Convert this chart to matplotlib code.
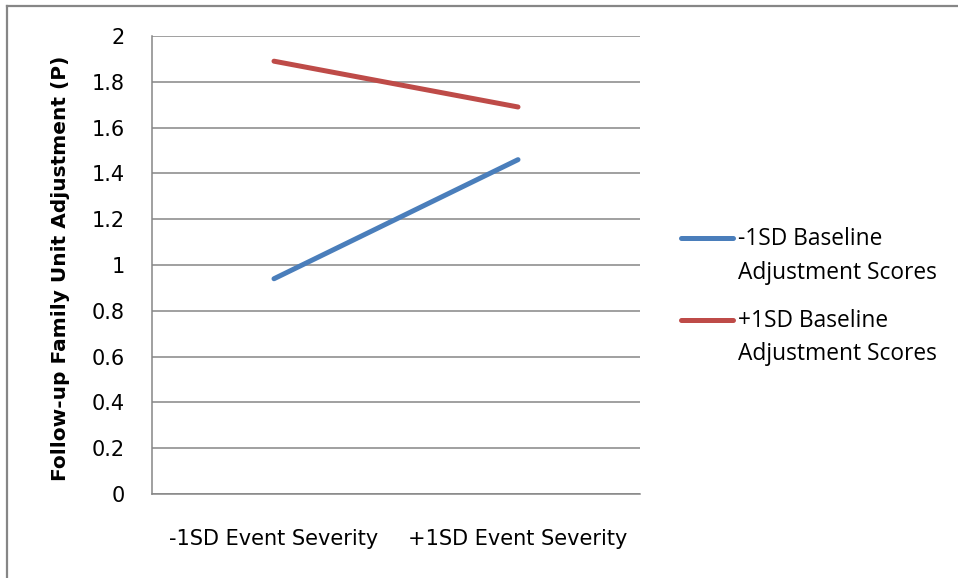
import matplotlib
matplotlib.use("Agg")
import matplotlib.pyplot as plt
from matplotlib.lines import Line2D

categories = ["-1SD Event Severity", "+1SD Event Severity"]
low_baseline = [0.94, 1.46]
high_baseline = [1.89, 1.69]
series_names = ["-1SD Baseline\nAdjustment Scores", "+1SD Baseline\nAdjustment Scores"]
yticks = [0, 0.2, 0.4, 0.6, 0.8, 1, 1.2, 1.4, 1.6, 1.8, 2]

W, H = 958, 578
grey = "#868686"

fig = plt.figure(figsize=(W / 100, H / 100), dpi=100)
ax = fig.add_axes([152 / W, (H - 494) / H, 488 / W, (494 - 36) / H])

x = list(range(len(categories)))
ax.plot(x, low_baseline, color="#4A7EBB", lw=3.6, solid_capstyle="round", label=series_names[0])
ax.plot(x, high_baseline, color="#BE4B48", lw=3.6, solid_capstyle="round", label=series_names[1])

ax.set_xlim(-0.5, 1.5)
ax.set_ylim(0, 2)
ax.set_yticks(yticks)
ax.set_yticklabels([f"{v:g}" for v in yticks], fontsize=15)
ax.set_xticks(x)
ax.set_xticklabels(categories, fontsize=15)
ax.tick_params(axis="y", length=0, pad=19.5)
ax.tick_params(axis="x", length=0, pad=25)
ax.yaxis.grid(True, color=grey, lw=1.1)
ax.set_axisbelow(True)
for s in ["top", "right"]:
    ax.spines[s].set_visible(False)
for s in ["left", "bottom"]:
    ax.spines[s].set_color(grey)
    ax.spines[s].set_linewidth(1.1)

ax.set_ylabel("Follow-up Family Unit Adjustment (P)", fontsize=14.5, fontweight="bold")
ax.yaxis.set_label_coords(70 / W, 1 - 268.5 / H, transform=fig.transFigure)

# tall handle box lifts the legend line up to the first text line, like Excel does
leg = ax.legend(loc="upper left", bbox_to_anchor=(660 / W, 1 - 191 / H), bbox_transform=fig.transFigure,
                frameon=False, handlelength=2.32, handleheight=6.2, handletextpad=0.2, labelspacing=-0.7,
                prop={"family": ["Open Sans", "DejaVu Sans"], "size": 16.4})
for t in leg.get_texts():
    t.set_linespacing(1.55)

# outer chart frame (top and left edges visible)
fig.add_artist(Line2D([7 / W, 1], [1 - 6 / H, 1 - 6 / H], color=grey, lw=1.6, transform=fig.transFigure))
fig.add_artist(Line2D([7 / W, 7 / W], [0, 1 - 6 / H], color=grey, lw=1.6, transform=fig.transFigure))

fig.savefig("out.png", dpi=100)
